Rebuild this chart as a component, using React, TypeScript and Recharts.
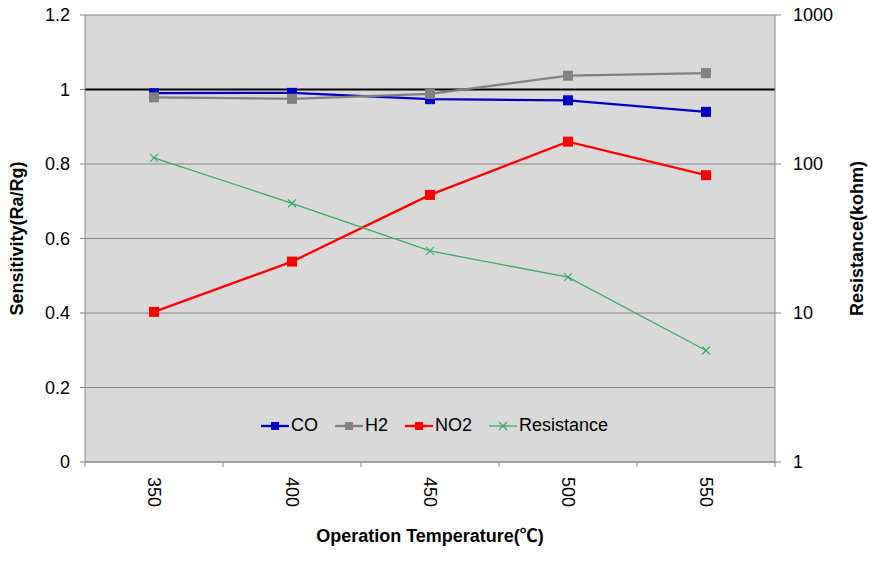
import React from 'react';
import { LineChart, Line, XAxis, YAxis, CartesianGrid, Legend, ReferenceLine, Label } from 'recharts';

const FONT = '"Liberation Sans", Arial, "Noto Sans CJK SC", sans-serif';

// values
const temps = [350, 400, 450, 500, 550];
const co = [0.99, 0.991, 0.974, 0.971, 0.94];
const h2 = [0.979, 0.975, 0.988, 1.037, 1.044];
const no2 = [0.403, 0.538, 0.717, 0.86, 0.77];
const resistance = [110, 54.5, 26.1, 17.4, 5.6];

const leftTicks = [0, 0.2, 0.4, 0.6, 0.8, 1, 1.2];
const rightTicks = [1, 10, 100, 1000];
const bandEdges = [325, 375, 425, 475, 525, 575];

const data = temps.map((t, i) => ({
  temp: t,
  CO: co[i],
  H2: h2[i],
  NO2: no2[i],
  Resistance: resistance[i],
}));

const series = [
  { key: 'CO', color: '#0000C8', width: 2.3, marker: 'square', axis: 'left' },
  { key: 'H2', color: '#808080', width: 2.3, marker: 'square', axis: 'left' },
  { key: 'NO2', color: '#FF0000', width: 2.3, marker: 'square', axis: 'left' },
  { key: 'Resistance', color: '#3AAA66', width: 1.3, marker: 'cross', axis: 'right' },
];

const squareDot = (color: string) => (p: any) => {
  if (p.cx == null || p.cy == null) return <g key={p.index} />;
  return <rect key={p.index} x={p.cx - 5} y={p.cy - 5} width={10} height={10} fill={color} />;
};

const crossDot = (color: string) => (p: any) => {
  if (p.cx == null || p.cy == null) return <g key={p.index} />;
  const { cx, cy } = p;
  return (
    <path
      key={p.index}
      d={`M${cx - 4},${cy - 4}L${cx + 4},${cy + 4}M${cx + 4},${cy - 4}L${cx - 4},${cy + 4}`}
      stroke={color}
      strokeWidth={1.2}
      fill="none"
    />
  );
};

const RotatedTick = (p: any) => (
  <text
    x={p.x}
    y={p.y}
    transform={`rotate(90, ${p.x}, ${p.y})`}
    textAnchor="start"
    dominantBaseline="central"
    fontSize={18}
    fill="#000"
    fontFamily={FONT}
  >
    {p.payload.value}
  </text>
);

const NoLabel = () => <g />;

const renderLegend = () => (
  <div
    style={{
      display: 'flex',
      justifyContent: 'center',
      alignItems: 'center',
      gap: 17,
      fontFamily: FONT,
      fontSize: 18,
      color: '#000',
    }}
  >
    {series.map((s) => (
      <div key={s.key} style={{ display: 'flex', alignItems: 'center' }}>
        <svg width={28} height={12}>
          <line x1={0} y1={6} x2={28} y2={6} stroke={s.color} strokeWidth={s.width} />
          {s.marker === 'square' ? (
            <rect x={10} y={2} width={8} height={8} fill={s.color} />
          ) : (
            <path d="M10,2L18,10M18,2L10,10" stroke={s.color} strokeWidth={1.2} fill="none" />
          )}
        </svg>
        <span style={{ marginLeft: 2 }}>{s.key}</span>
      </div>
    ))}
  </div>
);

const titleStyle = { fontWeight: 'bold', fontSize: 18, fill: '#000', fontFamily: FONT };

export default function App() {
  return (
    <div style={{ position: 'absolute', left: 0, top: 0, width: 869, height: 565, background: '#fff' }}>
      <LineChart
        width={869}
        height={565}
        data={data}
        margin={{ top: 15, right: 0, bottom: 0, left: 0 }}
        style={{ fontFamily: FONT }}
      >
        <CartesianGrid
          xAxisId="a"
          yAxisId="left"
          vertical={false}
          fill="#D9D9D9"
          stroke="#868686"
          fillOpacity={1}
        />
        {/* category boundaries: axis line + tick marks */}
        <XAxis
          xAxisId="a"
          dataKey="temp"
          type="number"
          domain={[325, 575]}
          ticks={bandEdges}
          allowDataOverflow
          interval={0}
          tick={<NoLabel />}
          tickLine={{ stroke: '#868686' }}
          tickSize={5}
          height={1}
          stroke="#868686"
        />
        {/* category labels, rotated */}
        <XAxis
          xAxisId="b"
          dataKey="temp"
          type="number"
          domain={[325, 575]}
          ticks={temps}
          allowDataOverflow
          interval={0}
          axisLine={false}
          tickLine={false}
          tickSize={0}
          tickMargin={14}
          height={102}
          tick={<RotatedTick />}
        >
          <Label value="Operation Temperature(℃)" position="insideBottom" offset={23} style={titleStyle} />
        </XAxis>
        <YAxis
          yAxisId="left"
          domain={[0, 1.2]}
          ticks={leftTicks}
          allowDataOverflow
          width={85}
          tickSize={5}
          tickMargin={10}
          stroke="#868686"
          tick={{ fill: '#000', fontSize: 18 }}
          tickFormatter={(v) => String(v)}
        >
          <Label
            value="Sensitivity(Ra/Rg)"
            angle={-90}
            position="insideLeft"
            offset={17}
            style={{ ...titleStyle, textAnchor: 'middle' }}
          />
        </YAxis>
        <YAxis
          yAxisId="right"
          orientation="right"
          scale="log"
          domain={[1, 1000]}
          ticks={rightTicks}
          allowDataOverflow
          width={94}
          tickSize={6}
          tickMargin={12}
          stroke="#868686"
          tick={{ fill: '#000', fontSize: 18 }}
        >
          <Label
            value="Resistance(kohm)"
            angle={-90}
            position="insideRight"
            offset={12}
            style={{ ...titleStyle, textAnchor: 'middle' }}
          />
        </YAxis>
        <ReferenceLine xAxisId="a" yAxisId="left" y={1} stroke="#000" strokeWidth={2} />
        <Legend
          layout="horizontal"
          verticalAlign="middle"
          align="center"
          content={renderLegend}
          wrapperStyle={{ top: 415, left: 0, width: 869 }}
        />
        {series.map((s) => (
          <Line
            key={s.key}
            xAxisId="a"
            yAxisId={s.axis}
            dataKey={s.key}
            type="linear"
            stroke={s.color}
            strokeWidth={s.width}
            dot={s.marker === 'square' ? squareDot(s.color) : crossDot(s.color)}
            activeDot={false}
            isAnimationActive={false}
          />
        ))}
      </LineChart>
    </div>
  );
}
